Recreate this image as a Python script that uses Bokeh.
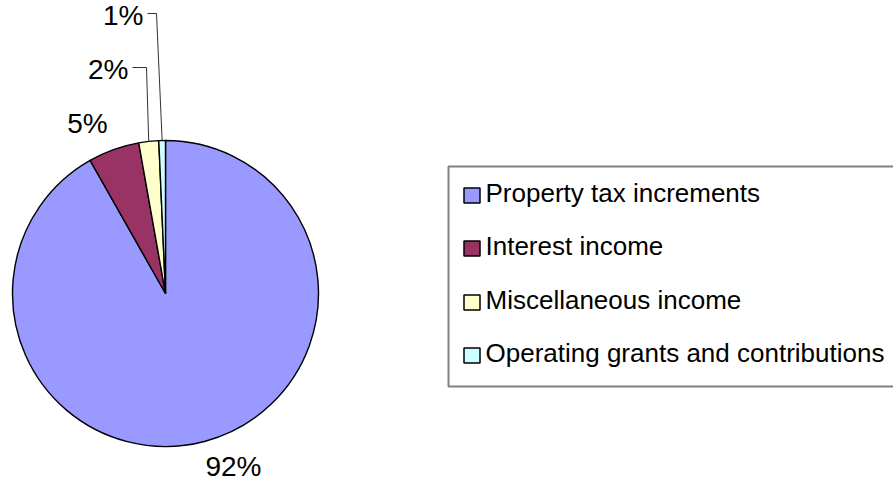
import numpy as np
from bokeh.plotting import figure
from bokeh.models import Range1d, ColumnDataSource
from bokeh.core.properties import value
from bokeh.embed import file_html
from bokeh.resources import INLINE

# ---- data ----
categories = ["Property tax increments", "Interest income",
              "Miscellaneous income", "Operating grants and contributions"]
shares = [91.8, 5.4, 2.1, 0.7]
pct_labels = ["92%", "5%", "2%", "1%"]
colors = ["#9999FF", "#993366", "#FFFFCC", "#CCFFFF"]

# ---- layout (pixels, top-left origin) ----
W, H = 893, 484
FONT = "Liberation Sans"
cx, cy, R = 165, 293, 153


def Y(v):
    return H - v


p = figure(width=W, height=H, output_backend="svg", toolbar_location=None,
           x_range=Range1d(0, W), y_range=Range1d(0, H), min_border=0)
p.axis.visible = False
p.grid.visible = False
p.outline_line_color = None
p.background_fill_color = "white"
p.border_fill_color = "white"

# pie: clockwise from 12 o'clock
vals = np.array(shares, dtype=float)
frac = vals / vals.sum()
cum = np.concatenate([[0], np.cumsum(frac)])
start = np.pi / 2 - 2 * np.pi * cum[:-1]
end = np.pi / 2 - 2 * np.pi * cum[1:]
src = ColumnDataSource(dict(start=start, end=end, color=colors, cat=categories))
p.wedge(x=cx, y=Y(cy), radius=R, radius_units="screen", start_angle="start",
        end_angle="end", direction="clock", fill_color="color",
        line_color="black", line_width=1.4, source=src)

# percentage labels
mid = np.pi / 2 - 2 * np.pi * (cum[:-1] + cum[1:]) / 2
label_pos = [(233, 466, "center"), (87, 123, "center"),
             (128, 69, "right"), (143, 15, "right")]
for (lx, ly, al), t in zip(label_pos, pct_labels):
    p.text(x=[lx], y=[Y(ly)], text=[t], text_font=value(FONT),
           text_font_size="28px", text_align=al, text_baseline="middle",
           text_color="black")

# leader lines for the two small slices (label -> elbow -> arc midpoint)
elbows = {2: (146, 67), 3: (156, 13)}
for i, (ex, ey) in elbows.items():
    ax = cx + R * np.cos(mid[i])
    ay = cy - R * np.sin(mid[i])
    sx = label_pos[i][0] + 4
    p.line(x=[sx, ex, ax], y=[Y(ey), Y(ey), Y(ay)], line_color="#333333",
           line_width=1)

# legend box
p.quad(left=[448], right=[W + 10], top=[Y(166)], bottom=[Y(386)],
       fill_color="white", line_color="#808080", line_width=2)
row_y = [192, 245, 299, 352]
p.rect(x=[471.5] * 4, y=[Y(v + 3) for v in row_y], width=16, height=15,
       width_units="screen", height_units="screen", fill_color=colors,
       line_color="black", line_width=1.5)
p.text(x=[485] * 4, y=[Y(v) for v in row_y], text=categories,
       text_font=value(FONT), text_font_size="26px", text_align="left",
       text_baseline="middle", text_color="black")

open("out.html", "w").write(file_html(p, INLINE))
